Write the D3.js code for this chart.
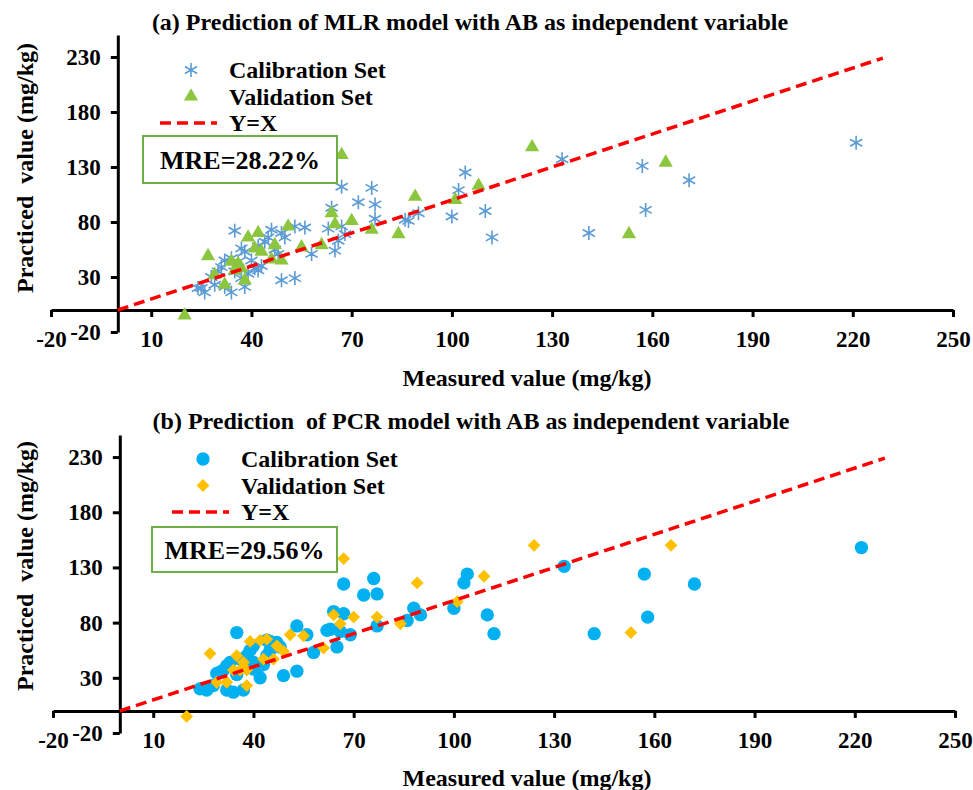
<!DOCTYPE html>
<html>
<head>
<meta charset="utf-8">
<script src="https://cdn.jsdelivr.net/npm/d3@7"></script>
<style>
  body { margin: 0; background: #fff; }
  svg { display: block; font-family: "Liberation Serif", "Times New Roman", serif; font-weight: bold; }
  text { white-space: pre; }
</style>
</head>
<body>
<div id="chart"></div>
<script>
// tick labels
const xTicks = [-20, 10, 40, 70, 100, 130, 160, 190, 220, 250];
const yTicks = [-20, 30, 80, 130, 180, 230];
const lineXY = [0, 229];

// (a) MLR: [measured, predicted]
const mlrCal = [
  [221, 152], [133, 137], [157, 131], [171, 118], [158, 91], [141, 70], [112, 66], [110, 90],
  [104, 125], [102, 109], [100, 85], [90, 88], [87, 81], [86, 82], [77, 83], [77, 96],
  [76, 111], [72, 98], [67, 112], [64, 93], [63, 74], [67, 76], [68, 69], [66, 63],
  [65, 54], [58, 51], [56, 75], [53, 76], [46, 73], [49, 70], [44, 62], [35, 72],
  [37, 56], [38, 53], [48, 51], [32, 45], [30, 35], [25, 20], [26, 16], [29, 23],
  [34, 16], [37, 29], [41, 38], [42, 36], [49, 27], [53, 29], [31, 39], [35, 35],
  [28, 30], [24, 20], [32, 21], [38, 21], [34, 47], [40, 45], [43, 40], [45, 66],
  [42, 58], [36, 44], [39, 33], [47, 55], [50, 66]
];
const mlrVal = [
  [124, 148], [164, 134], [153, 69], [108, 113], [67, 141], [89, 103], [101, 100], [70, 81],
  [64, 88], [65, 78], [76, 73], [84, 69], [61, 59], [55, 57], [27, 49], [39, 66],
  [42, 70], [51, 76], [41, 56], [43, 53], [47, 59], [46, 46], [49, 45], [34, 44],
  [36, 42], [37, 38], [35, 36], [29, 32], [32, 23], [38, 27], [20, -5]
];

// (b) PCR: [measured, predicted]
const pcrCal = [
  [222, 148], [133, 131], [157, 124], [172, 115], [158, 85], [142, 70], [112, 70], [110, 87],
  [104, 124], [103, 116], [67, 115], [76, 120], [73, 105], [77, 106], [64, 90], [67, 88],
  [88, 93], [90, 87], [100, 93], [86, 82], [77, 77], [63, 74], [66, 72], [69, 69],
  [56, 69], [58, 53], [65, 58], [35, 71], [53, 77], [40, 59], [44, 64], [47, 62],
  [38, 50], [32, 41], [31, 37], [29, 34], [42, 41], [44, 50], [49, 32], [53, 36],
  [42, 30], [24, 20], [26, 19], [28, 23], [32, 19], [34, 17], [37, 19], [62, 73],
  [48, 58], [38, 43], [40, 44], [45, 55], [47, 60], [36, 47], [33, 44], [40, 38],
  [30, 35], [35, 33], [43, 42], [39, 55], [45, 63]
];
const pcrVal = [
  [124, 150], [165, 150], [153, 71], [109, 122], [67, 138], [89, 116], [101, 99], [64, 87],
  [66, 79], [70, 85], [77, 85], [84, 79], [61, 57], [55, 68], [27, 52], [39, 63],
  [42, 64], [44, 65], [51, 69], [47, 59], [43, 47], [46, 47], [49, 54], [35, 50],
  [37, 44], [34, 37], [36, 37], [38, 37], [29, 26], [32, 26], [38, 23], [20, -5]
];

const width = 973, height = 790;
const svg = d3.select("#chart").append("svg")
  .attr("width", width)
  .attr("height", height);

const panels = [
  {
    title: "(a) Prediction of MLR model with AB as independent variable",
    titleX: 470, titleY: 30,
    xRange: [51, 953], yRange: [332, 35],
    cal: mlrCal, val: mlrVal, calShape: "star", valShape: "triangle",
    calColor: "#5B9BD5", valColor: "#8CC63E",
    legendX: 191, legendY: 70, textX: 229, lineStart: 160, lineEnd: 217,
    mre: "MRE=28.22%", box: [143, 136, 194, 47],
    ylabelY: 168, xlabelY: 386
  },
  {
    title: "(b) Prediction  of PCR model with AB as independent variable",
    titleX: 471, titleY: 429,
    xRange: [53, 955], yRange: [733, 435],
    cal: pcrCal, val: pcrVal, calShape: "circle", valShape: "diamond",
    calColor: "#00B0F0", valColor: "#FFC000",
    legendX: 203, legendY: 459, textX: 241, lineStart: 172, lineEnd: 229,
    mre: "MRE=29.56%", box: [152, 527, 185, 45],
    ylabelY: 566, xlabelY: 786
  }
];

function markerPath(shape) {
  if (shape === "triangle") return d3.symbol().type(d3.symbolTriangle).size(88)();
  if (shape === "diamond") return d3.symbol().type(d3.symbolSquare).size(82)();
  if (shape === "circle") return d3.symbol().type(d3.symbolCircle).size(140)();
  // asterisk: vertical + two diagonals
  const r = 7, dx = r * 0.87, dy = r * 0.5;
  return `M0,${-r}L0,${r}M${-dx},${-dy}L${dx},${dy}M${-dx},${dy}L${dx},${-dy}`;
}

function drawMarker(g, shape, color) {
  const p = g.append("path").attr("d", markerPath(shape));
  if (shape === "star") {
    p.attr("fill", "none").attr("stroke", color).attr("stroke-width", 1.6);
  } else {
    p.attr("fill", color);
  }
  if (shape === "diamond") p.attr("transform", "rotate(45)");
  return p;
}

panels.forEach(pn => {
  const x = d3.scaleLinear().domain([-20, 250]).range(pn.xRange);
  const y = d3.scaleLinear().domain([-20, 250]).range(pn.yRange);
  const g = svg.append("g");

  // title
  g.append("text")
    .attr("x", pn.titleX).attr("y", pn.titleY)
    .attr("text-anchor", "middle")
    .style("font-size", "24px")
    .text(pn.title);

  // x axis through y = 0
  const xAxis = g.append("g")
    .attr("transform", `translate(0,${y(0)})`)
    .call(d3.axisBottom(x).tickValues(xTicks).tickFormat(d => String(d))
      .tickSize(7).tickSizeOuter(0).tickPadding(14));
  // y axis through x = 0
  const yAxis = g.append("g")
    .attr("transform", `translate(${x(0)},0)`)
    .call(d3.axisLeft(y).tickValues(yTicks).tickFormat(d => String(d))
      .tickSize(7).tickSizeOuter(0).tickPadding(10));

  [xAxis, yAxis].forEach(a => {
    a.select(".domain").attr("stroke", "#000").attr("stroke-width", 3);
    a.selectAll(".tick line").attr("stroke", "#000").attr("stroke-width", 3);
    a.selectAll(".tick text")
      .attr("fill", "#000")
      .style("font-family", "Liberation Serif, serif")
      .style("font-weight", "bold")
      .style("font-size", "23px");
  });

  // axis titles
  g.append("text")
    .attr("transform", `translate(33,${pn.ylabelY}) rotate(-90)`)
    .attr("text-anchor", "middle")
    .style("font-size", "24px")
    .text("Practiced  value (mg/kg)");
  g.append("text")
    .attr("x", 527).attr("y", pn.xlabelY)
    .attr("text-anchor", "middle")
    .style("font-size", "24px")
    .text("Measured value (mg/kg)");

  // calibration points
  pn.cal.forEach(d => {
    const m = g.append("g").attr("transform", `translate(${x(d[0])},${y(d[1])})`);
    drawMarker(m, pn.calShape, pn.calColor);
  });
  // validation points
  pn.val.forEach(d => {
    const m = g.append("g").attr("transform", `translate(${x(d[0])},${y(d[1])})`);
    drawMarker(m, pn.valShape, pn.valColor);
  });

  // Y = X line
  g.append("line")
    .attr("x1", x(lineXY[0])).attr("y1", y(lineXY[0]))
    .attr("x2", x(lineXY[1])).attr("y2", y(lineXY[1]))
    .attr("stroke", "#FF0000")
    .attr("stroke-width", 3.5)
    .attr("stroke-dasharray", "11,6");

  // legend
  const lg = g.append("g");
  const items = [
    { label: "Calibration Set", shape: pn.calShape, color: pn.calColor },
    { label: "Validation Set", shape: pn.valShape, color: pn.valColor }
  ];
  items.forEach((it, i) => {
    const cy = pn.legendY + i * 26.5;
    const m = lg.append("g").attr("transform", `translate(${pn.legendX},${cy})`);
    drawMarker(m, it.shape, it.color);
    lg.append("text")
      .attr("x", pn.textX).attr("y", cy + 8)
      .style("font-size", "24px")
      .text(it.label);
  });
  const ly = pn.legendY + 53;
  lg.append("line")
    .attr("x1", pn.lineStart).attr("x2", pn.lineEnd)
    .attr("y1", ly).attr("y2", ly)
    .attr("stroke", "#FF0000")
    .attr("stroke-width", 3.5)
    .attr("stroke-dasharray", "11,6");
  lg.append("text")
    .attr("x", pn.textX).attr("y", ly + 8)
    .style("font-size", "24px")
    .text("Y=X");

  // MRE box
  g.append("rect")
    .attr("x", pn.box[0]).attr("y", pn.box[1])
    .attr("width", pn.box[2]).attr("height", pn.box[3])
    .attr("fill", "#fff")
    .attr("stroke", "#70AD47")
    .attr("stroke-width", 2);
  g.append("text")
    .attr("x", pn.box[0] + pn.box[2] / 2).attr("y", pn.box[1] + pn.box[3] / 2 + 9.5)
    .attr("text-anchor", "middle")
    .style("font-size", "26px")
    .text(pn.mre);
});
</script>
</body>
</html>
